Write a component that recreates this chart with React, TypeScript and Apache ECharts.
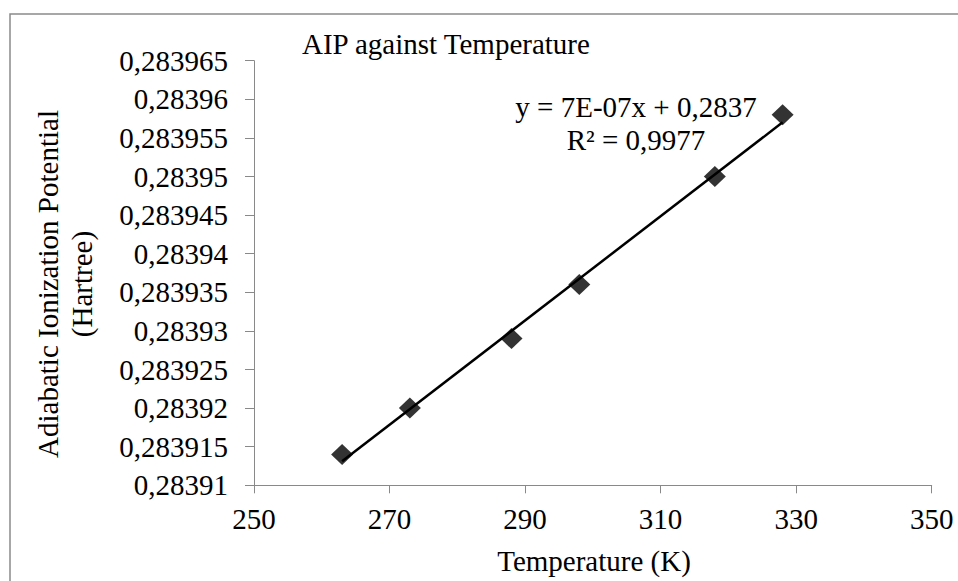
import React, { useEffect, useRef } from "react";
import * as echarts from "echarts";

// Data
const temperatures = [263, 273, 288, 298, 318, 328];
const aipValues = [0.283914, 0.28392, 0.283929, 0.283936, 0.28395, 0.283958];

const xMin = 250;
const xMax = 350;
const xStep = 20;
const yMin = 0.28391;
const yMax = 0.283965;
const yStep = 0.000005;

const chartTitle = "AIP against Temperature";
const xTitle = "Temperature (K)";
const yTitleLines = ["Adiabatic Ionization Potential", "(Hartree)"];
const equationLines = ["y = 7E-07x + 0,2837", "R² = 0,9977"];

const FONT = "'Liberation Serif', 'Times New Roman', serif";
const FS = 29;

function regression(xs: number[], ys: number[]) {
  const n = xs.length;
  const mx = xs.reduce((a, b) => a + b, 0) / n;
  const my = ys.reduce((a, b) => a + b, 0) / n;
  let sxy = 0;
  let sxx = 0;
  for (let i = 0; i < n; i++) {
    sxy += (xs[i] - mx) * (ys[i] - my);
    sxx += (xs[i] - mx) * (xs[i] - mx);
  }
  const slope = sxy / sxx;
  return { slope, intercept: my - slope * mx };
}

export default function App() {
  const ref = useRef<HTMLDivElement>(null);

  useEffect(() => {
    if (!ref.current) return;
    const chart = echarts.init(ref.current, null, { renderer: "svg" });
    const { slope, intercept } = regression(temperatures, aipValues);
    const tx0 = Math.min(...temperatures);
    const tx1 = Math.max(...temperatures);
    const trend = [
      [tx0, slope * tx0 + intercept],
      [tx1, slope * tx1 + intercept],
    ];
    const axisColor = "#898989";

    chart.setOption({
      animation: false,
      backgroundColor: "#ffffff",
      textStyle: { fontFamily: FONT },
      grid: { left: 254, right: 26.3, top: 60.7, bottom: 95.7, containLabel: false },
      xAxis: {
        type: "value",
        min: xMin,
        max: xMax,
        interval: xStep,
        axisLine: { show: true, lineStyle: { color: axisColor, width: 1 } },
        axisTick: { show: true, length: 8, lineStyle: { color: axisColor, width: 1 } },
        splitLine: { show: false },
        axisLabel: { color: "#000", fontFamily: FONT, fontSize: FS, margin: 19 },
      },
      yAxis: {
        type: "value",
        min: yMin,
        max: yMax,
        interval: yStep,
        axisLine: { show: true, lineStyle: { color: axisColor, width: 1 } },
        axisTick: { show: true, length: 9, lineStyle: { color: axisColor, width: 1 } },
        splitLine: { show: false },
        axisLabel: {
          color: "#000",
          fontFamily: FONT,
          fontSize: FS,
          margin: 26,
          formatter: (v: number) => (Math.round(v * 1e6) / 1e6).toString().replace(".", ","),
        },
      },
      series: [
        {
          type: "line",
          data: trend,
          showSymbol: false,
          symbol: "none",
          lineStyle: { color: "#000", width: 2.5 },
          z: 2,
          silent: true,
        },
        {
          type: "scatter",
          data: temperatures.map((t, i) => [t, aipValues[i]]),
          symbol: "diamond",
          symbolSize: [22, 21],
          itemStyle: { color: "#000" },
          z: 3,
        },
      ],
      graphic: [
        {
          type: "rect",
          shape: { x: 10, y: 14, width: 980, height: 620 },
          style: { fill: "none", stroke: "#8a8a8a", lineWidth: 1.5 },
          silent: true,
        },
        {
          type: "text",
          x: 302,
          y: 44,
          style: {
            text: chartTitle,
            font: `${FS}px ${FONT}`,
            fill: "#000",
            align: "left",
            verticalAlign: "middle",
          },
        },
        {
          type: "text",
          x: 594,
          y: 561,
          style: {
            text: xTitle,
            font: `${FS}px ${FONT}`,
            fill: "#000",
            align: "center",
            verticalAlign: "middle",
          },
        },
        {
          type: "text",
          x: 65,
          y: 284,
          rotation: Math.PI / 2,
          style: {
            text: yTitleLines.join("\n"),
            font: `${FS}px ${FONT}`,
            fill: "#000",
            align: "center",
            verticalAlign: "middle",
            lineHeight: 34,
          },
        },
        {
          type: "text",
          x: 636,
          y: 123,
          style: {
            text: equationLines.join("\n"),
            font: `${FS}px ${FONT}`,
            fill: "#000",
            align: "center",
            verticalAlign: "middle",
            lineHeight: 33,
          },
        },
      ],
    });

    return () => chart.dispose();
  }, []);

  return (
    <div
      ref={ref}
      style={{ position: "fixed", left: 0, top: 0, width: 958, height: 581, background: "#fff" }}
    />
  );
}
